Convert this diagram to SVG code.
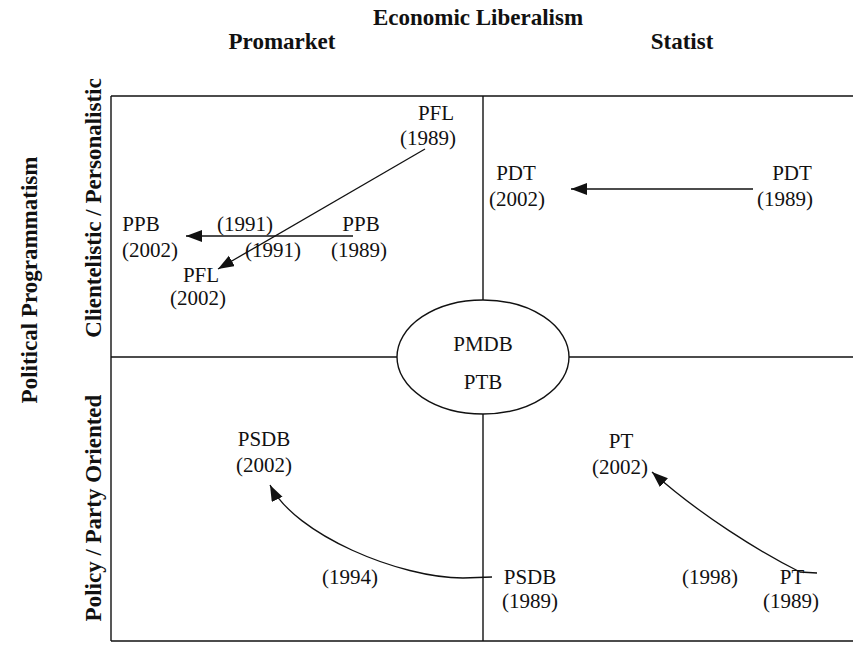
<svg xmlns="http://www.w3.org/2000/svg" width="853" height="647" viewBox="0 0 853 647" font-family="'Liberation Serif', 'Times New Roman', serif">
<style>
  text { font-family: "Liberation Serif", "Times New Roman", serif; fill: #111; }
  .lbl { font-size: 21px; text-anchor: middle; }
  .hdr { font-size: 23px; font-weight: bold; text-anchor: middle; }
  .frame { stroke: #111; stroke-width: 1.4; fill: none; }
  .conn { stroke: #111; stroke-width: 1.3; fill: none; marker-end: url(#ah); }
</style>
<defs>
  <marker id="ah" markerUnits="userSpaceOnUse" markerWidth="18" markerHeight="14" refX="16" refY="6" orient="auto">
    <path d="M0,0 L16,6 L0,12 Z" fill="#111"/>
  </marker>
</defs>
<rect width="853" height="647" fill="#fff"/>

<g id="axes">
  <text class="hdr" x="478" y="25">Economic Liberalism</text>
  <text class="hdr" x="282" y="49">Promarket</text>
  <text class="hdr" x="682" y="49">Statist</text>
  <text class="hdr" transform="translate(37,280) rotate(-90)">Political Programmatism</text>
  <text class="hdr" transform="translate(101,208) rotate(-90)">Clientelistic / Personalistic</text>
  <text class="hdr" transform="translate(101,508) rotate(-90)">Policy / Party Oriented</text>
</g>

<g id="frame">
  <line class="frame" x1="111" y1="96" x2="853" y2="96"/>
  <line class="frame" x1="111" y1="96" x2="111" y2="641"/>
  <line class="frame" x1="111" y1="641" x2="853" y2="641"/>
  <line class="frame" x1="483" y1="96" x2="483" y2="300"/>
  <line class="frame" x1="483" y1="414" x2="483" y2="641"/>
  <line class="frame" x1="111" y1="357" x2="397" y2="357"/>
  <line class="frame" x1="569" y1="357" x2="853" y2="357"/>
</g>

<g id="center">
  <ellipse class="frame" cx="483" cy="357" rx="86" ry="57"/>
  <text class="lbl" x="483" y="351">PMDB</text>
  <text class="lbl" x="483" y="389">PTB</text>
</g>

<g id="pfl1989"><text class="lbl" x="436" y="120">PFL</text><text class="lbl" x="428" y="145">(1989)</text></g>
<g id="pfl2002"><text class="lbl" x="201" y="282">PFL</text><text class="lbl" x="198" y="305">(2002)</text></g>
<g id="ppb1989"><text class="lbl" x="361" y="231">PPB</text><text class="lbl" x="359" y="257">(1989)</text></g>
<g id="ppb2002"><text class="lbl" x="141" y="231">PPB</text><text class="lbl" x="150" y="257">(2002)</text></g>
<g id="y1991a"><text class="lbl" x="245" y="231">(1991)</text></g>
<g id="y1991b"><text class="lbl" x="273" y="257">(1991)</text></g>
<g id="pdt2002"><text class="lbl" x="516" y="180">PDT</text><text class="lbl" x="517" y="206">(2002)</text></g>
<g id="pdt1989"><text class="lbl" x="792" y="180">PDT</text><text class="lbl" x="785" y="206">(1989)</text></g>
<g id="psdb2002"><text class="lbl" x="264" y="446">PSDB</text><text class="lbl" x="264" y="472">(2002)</text></g>
<g id="psdb1989"><text class="lbl" x="530" y="584">PSDB</text><text class="lbl" x="530" y="608">(1989)</text></g>
<g id="y1994"><text class="lbl" x="350" y="584">(1994)</text></g>
<g id="pt2002"><text class="lbl" x="621" y="448">PT</text><text class="lbl" x="620" y="474">(2002)</text></g>
<g id="pt1989"><text class="lbl" x="792" y="584">PT</text><text class="lbl" x="791" y="608">(1989)</text></g>
<g id="y1998"><text class="lbl" x="710" y="584">(1998)</text></g>

<g id="connectors">
  <path class="conn" d="M425,149 L218,269"/>
  <path class="conn" d="M353,236 L186,236"/>
  <path class="conn" d="M753,189 L571,189"/>
  <path class="conn" d="M492,577 L463,578 C400,578 295,535 270,485"/>
  <path class="conn" d="M817,573 L800,572 C760,552 700,515 652,472"/>
</g>
</svg>
